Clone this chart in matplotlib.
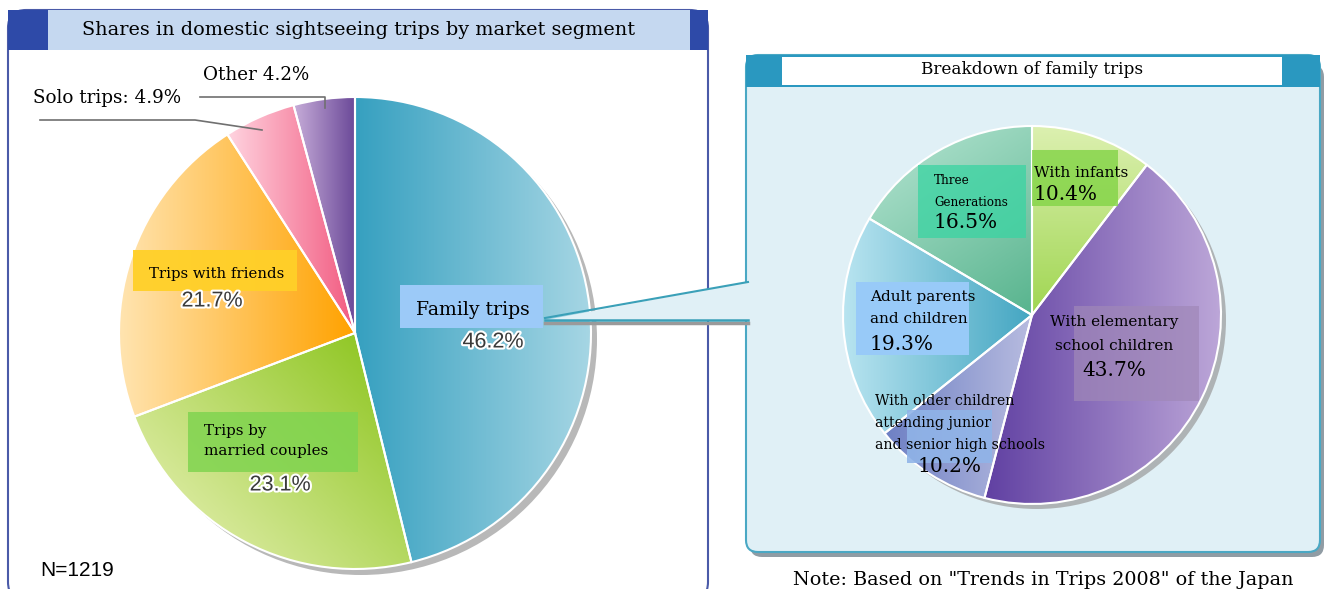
import numpy as np
import matplotlib
matplotlib.use("Agg")
import matplotlib.pyplot as plt
from matplotlib.patches import FancyBboxPatch, Rectangle, Circle, Polygon
from matplotlib.colors import LinearSegmentedColormap
import matplotlib.patheffects as pe

# ---------------- data ----------------
main_labels = ["Family trips", "Trips by\nmarried couples", "Trips with friends", "Solo trips", "Other"]
main_values = [46.2, 23.1, 21.7, 4.9, 4.2]
main_pct = ["46.2%", "23.1%", "21.7%", "4.9%", "4.2%"]

family_labels = ["With infants", "With elementary\nschool children",
                 "With older children\nattending junior\nand senior high schools",
                 "Adult parents\nand children", "Three\nGenerations"]
family_values = [10.4, 43.7, 10.2, 19.3, 16.5]
family_pct = ["10.4%", "43.7%", "10.2%", "19.3%", "16.5%"]

sample_note = "N=1219"
title_left = "Shares in domestic sightseeing trips by market segment"
title_right = "Breakdown of family trips"
note = 'Note: Based on "Trends in Trips 2008" of the Japan'

# ---------------- figure ----------------
W, H = 1330, 589
fig = plt.figure(figsize=(W / 100, H / 100), dpi=100)
ax = fig.add_axes([0, 0, 1, 1])
SERIF = "DejaVu Serif"
SANS = "Liberation Sans"


def Y(yp):
    return H - yp


def grad_fill(patch, c1, c2, angle_deg, z=2):
    ext = patch.get_path().transformed(patch.get_patch_transform()).get_extents()
    n = 200
    xs = np.linspace(-1, 1, n)
    X, Yg = np.meshgrid(xs, xs)
    a = np.deg2rad(angle_deg)
    t = X * np.cos(a) + Yg * np.sin(a)
    t = (t - t.min()) / (t.max() - t.min())
    cmap = LinearSegmentedColormap.from_list("g", [c1, c2])
    im = ax.imshow(t, cmap=cmap, extent=(ext.x0, ext.x1, ext.y0, ext.y1),
                   origin="lower", vmin=0, vmax=1, zorder=z, interpolation="bilinear")
    im.set_clip_path(patch)


# ---------------- left panel ----------------
ax.add_patch(FancyBboxPatch((8, Y(600)), 700, 590, boxstyle="round,pad=0,rounding_size=18",
                            fc="white", ec="#4a5aa8", lw=1.5, zorder=0))
ax.add_patch(Rectangle((8, Y(50)), 700, 40, fc="#c5d8f0", ec="none", zorder=1))
ax.add_patch(Rectangle((8, Y(50)), 40, 40, fc="#2e4aa8", ec="none", zorder=1))
ax.add_patch(Rectangle((690, Y(50)), 18, 40, fc="#2e4aa8", ec="none", zorder=1))
ax.text(359, Y(30), title_left, family=SERIF, fontsize=13.9, ha="center", va="center", zorder=3)

lcx, lcy, lr = 355, Y(333), 236
ax.add_patch(Circle((lcx + 6, lcy - 6), lr, fc="#9a9a9a", ec="none", alpha=0.7, zorder=1))
wedges, _ = ax.pie(main_values, startangle=90, counterclock=False, center=(lcx, lcy), radius=lr,
                   colors=["#5ab4cf", "#a6d03c", "#ffb030", "#f590a8", "#9a78b8"],
                   wedgeprops=dict(edgecolor="white", linewidth=1.5))
main_grads = [("#36a0c0", "#a6d6e4", 0), ("#eef4c0", "#86c214", 40),
              ("#ffe4b0", "#ffa200", 0), ("#ffd4e0", "#f25a80", 0), ("#c6acd8", "#6a4898", 0)]
for w, (c1, c2, ang) in zip(wedges, main_grads):
    grad_fill(w, c1, c2, ang, z=2)
    w.set_facecolor("none")
    w.set_zorder(3)

# label boxes
ax.add_patch(Rectangle((400, Y(328)), 143, 43, fc="#9ccaf8", ec="none", zorder=4))
ax.text(416, Y(310), main_labels[0], family=SERIF, fontsize=13.6, va="center", zorder=5)
ax.add_patch(Rectangle((133, Y(291)), 164, 41, fc="#ffd028", ec="none", alpha=0.95, zorder=4))
ax.text(149, Y(274), main_labels[2], family=SERIF, fontsize=10.7, va="center", zorder=5)
ax.add_patch(Rectangle((188, Y(472)), 170, 60, fc="#80d450", ec="none", alpha=0.85, zorder=4))
ax.text(204, Y(441), main_labels[1], family=SERIF, fontsize=10.8, va="center",
        linespacing=1.6, zorder=5)
peff = [pe.withStroke(linewidth=3, foreground="white")]
for txt, (x, y) in zip([main_pct[0], main_pct[1], main_pct[2]], [(493, 342), (280, 485), (212, 301)]):
    ax.text(x, Y(y), txt, family=SANS, fontsize=15.5, color="#3a3a3a", ha="center", va="center",
            path_effects=peff, zorder=5)

# outside labels
ax.text(33, Y(98), f"Solo trips: {main_pct[3]}", family=SERIF, fontsize=13.2, va="center", zorder=5)
ax.plot([40, 195, 262], [Y(120), Y(120), Y(130)], color="#707070", lw=1.2, zorder=5)
ax.text(203, Y(75), f"Other {main_pct[4]}", family=SERIF, fontsize=13.2, va="center", zorder=5)
ax.plot([200, 325, 325], [Y(97), Y(97), Y(108)], color="#707070", lw=1.2, zorder=5)

ax.text(40, Y(570), sample_note, family=SANS, fontsize=15, va="center", zorder=5)

# ---------------- right panel ----------------
ax.add_patch(FancyBboxPatch((750, Y(557)), 574, 492, boxstyle="round,pad=0,rounding_size=12",
                            fc="#909ca4", ec="none", zorder=0))
ax.add_patch(FancyBboxPatch((746, Y(552)), 574, 497, boxstyle="round,pad=0,rounding_size=12",
                            fc="#e0f0f6", ec="#4aa8c4", lw=1.5, zorder=1))
ax.add_patch(Rectangle((746, Y(87)), 574, 32, fc="#2a98c0", ec="none", zorder=1))
ax.add_patch(Rectangle((782, Y(85)), 500, 28, fc="white", ec="none", zorder=1))
ax.text(1032, Y(70), title_right, family=SERIF, fontsize=12.2, ha="center", va="center", zorder=3)

# connector
ax.add_patch(Polygon([(545, Y(320)), (748, Y(282)), (748, Y(321))], closed=True,
                     fc="#e0f0f6", ec="none", zorder=3))
ax.plot([545, 748], [Y(323), Y(323)], color="#9a9a9a", lw=2.5, zorder=3)
ax.plot([545, 748], [Y(318), Y(282)], color="#3aa0b8", lw=1.5, zorder=4)
ax.plot([545, 748], [Y(320), Y(320)], color="#3aa0b8", lw=1.8, zorder=4)

rcx, rcy, rr = 1032, Y(315), 189
ax.add_patch(Circle((rcx + 5, rcy - 5), rr, fc="#9a9a9a", ec="none", alpha=0.7, zorder=1))
wedges2, _ = ax.pie(family_values, startangle=90, counterclock=False, center=(rcx, rcy), radius=rr,
                    colors=["#b8dc78", "#7a58b0", "#8090c8", "#66b8d0", "#78c4a4"],
                    wedgeprops=dict(edgecolor="white", linewidth=1.5))
fam_grads = [("#a0d652", "#dcf0b0", 90), ("#6040a2", "#bca6d8", 0), ("#6e80c4", "#b8bce0", 0),
             ("#b8e4f0", "#44a6c2", 0), ("#b8e6d4", "#58b48e", 300)]
for w, (c1, c2, ang) in zip(wedges2, fam_grads):
    grad_fill(w, c1, c2, ang, z=2)
    w.set_facecolor("none")
    w.set_zorder(3)

# label boxes for breakdown
ax.add_patch(Rectangle((1032, Y(206)), 86, 56, fc="#82d446", ec="none", alpha=0.8, zorder=4))
ax.text(1034, Y(173), family_labels[0], family=SERIF, fontsize=11, va="center", zorder=5)
ax.text(1034, Y(195), family_pct[0], family=SERIF, fontsize=14.5, va="center", zorder=5)

ax.add_patch(Rectangle((918, Y(238)), 108, 73, fc="#3ad4a2", ec="none", alpha=0.75, zorder=4))
ax.text(934, Y(192), family_labels[4], family=SERIF, fontsize=8.6, va="center",
        linespacing=1.9, zorder=5)
ax.text(934, Y(222), family_pct[4], family=SERIF, fontsize=14.5, va="center", zorder=5)

ax.add_patch(Rectangle((856, Y(355)), 113, 73, fc="#98caf8", ec="none", zorder=4))
ax.text(870, Y(308), family_labels[3], family=SERIF, fontsize=11, va="center",
        linespacing=1.75, zorder=5)
ax.text(870, Y(344), family_pct[3], family=SERIF, fontsize=14.5, va="center", zorder=5)

ax.add_patch(Rectangle((1074, Y(401)), 125, 95, fc="#a088b8", ec="none", alpha=0.7, zorder=4))
ax.text(1114, Y(334), family_labels[1], family=SERIF, fontsize=11, va="center", ha="center",
        linespacing=1.85, zorder=5)
ax.text(1114, Y(371), family_pct[1], family=SERIF, fontsize=14.5, va="center", ha="center", zorder=5)

ax.add_patch(Rectangle((907, Y(463)), 85, 53, fc="#90b4e8", ec="none", alpha=0.9, zorder=4))
ax.text(875, Y(423), family_labels[2], family=SERIF, fontsize=10.2, va="center",
        linespacing=1.7, zorder=5)
ax.text(949, Y(467), family_pct[2], family=SERIF, fontsize=14.5, va="center", ha="center", zorder=5)

ax.text(793, Y(580), note, family=SERIF, fontsize=13.8, va="center", zorder=5)

ax.set_xlim(0, W)
ax.set_ylim(0, H)
ax.set_aspect("auto")
ax.axis("off")
fig.savefig("out.png", dpi=100)
